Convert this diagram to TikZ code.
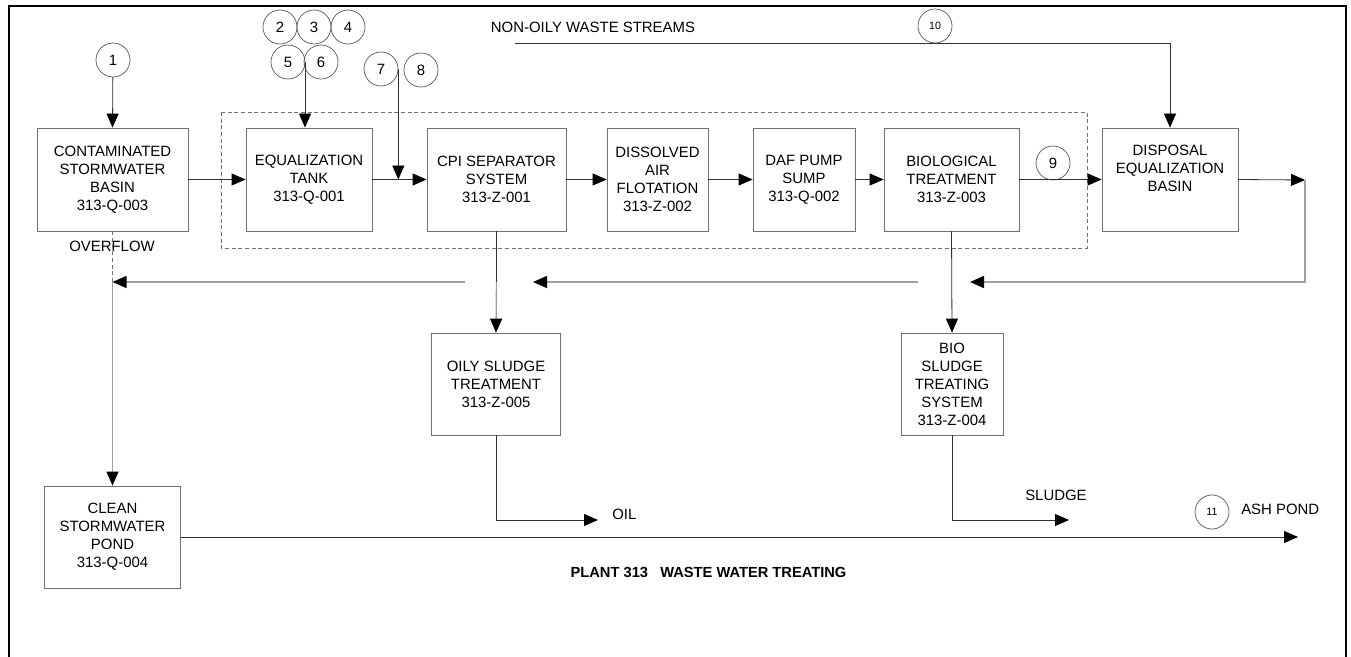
\documentclass[tikz,border=0pt]{standalone}
\usepackage{fontspec}
\setmainfont{Liberation Sans}
\usetikzlibrary{arrows.meta}
\definecolor{boxc}{HTML}{707070}
\definecolor{linec}{HTML}{303030}
\definecolor{retc}{HTML}{A0A0A0}
\definecolor{circc}{HTML}{505050}
\tikzset{
  box/.style={draw=boxc, line width=0.6pt, inner sep=0pt, align=center,
    minimum height=77.25pt, font=\fontsize{11.2}{13.5}\selectfont},
  num/.style={draw=circc, circle, line width=0.5pt, minimum size=25.5pt, inner sep=0pt,
    font=\fontsize{11.2}{13.5}\selectfont},
  smallnum/.style={num, font=\fontsize{8}{9}\selectfont},
  lbl/.style={inner sep=0pt, font=\fontsize{11.2}{13.5}\selectfont},
  flow/.style={draw=linec, line width=0.6pt},
  ret/.style={draw=retc, line width=1pt},
  tip/.style={-{Triangle[length=10.5pt,width=9pt,color=black]}},
  dashbox/.style={draw=boxc, line width=0.5pt, dash pattern=on 3pt off 2pt},
}
\begin{document}
\begin{tikzpicture}[x=0.75pt,y=-0.75pt]
\clip (0,0) rectangle (1351,656);
\fill[white] (0,0) rectangle (1351,656);
% frame
\draw[line width=1.6pt] (9,680) -- (9,6) -- (1346,6) -- (1346,680);
% dashed group
\draw[dashbox] (221,112) rectangle (1087,248);
% boxes
\node[box, minimum width=113.25pt] (cont) at (112.5,179.5) {CONTAMINATED\\STORMWATER\\BASIN\\313-Q-003};
\node[box, minimum width=94.5pt] (eq) at (309,179.5) {EQUALIZATION\\TANK\\313-Q-001};
\node[box, minimum width=104.25pt] (cpi) at (496.5,179.5) {CPI SEPARATOR\\SYSTEM\\313-Z-001};
\node[box, minimum width=75.75pt] (daf) at (657.5,179.5) {DISSOLVED\\AIR\\FLOTATION\\313-Z-002};
\node[box, minimum width=76.5pt] (pump) at (804,179.5) {DAF PUMP\\SUMP\\313-Q-002};
\node[box, minimum width=101.25pt] (bio) at (951.5,179.5) {BIOLOGICAL\\TREATMENT\\313-Z-003};
\node[box, minimum width=102pt] (disp) at (1170,179.5) {DISPOSAL\\EQUALIZATION\\BASIN\\\strut};
\node[box, minimum width=96.75pt, minimum height=76.5pt] (oily) at (496,384) {OILY SLUDGE\\TREATMENT\\313-Z-005};
\node[box, minimum width=76.5pt, minimum height=76.5pt] (biosl) at (952,384) {BIO\\SLUDGE\\TREATING\\SYSTEM\\313-Z-004};
\node[box, minimum width=102pt, minimum height=76.5pt] (clean) at (112.5,537) {CLEAN\\STORMWATER\\POND\\313-Q-004};
% circles
\node[num] (c1) at (113,60) {1};
\node[num] (c2) at (280,27) {2};
\node[num] (c3) at (314,27) {3};
\node[num] (c4) at (348,27) {4};
\node[num] (c5) at (288,62) {5};
\node[num] (c6) at (321,62) {6};
\node[num] (c7) at (381,69) {7};
\node[num] (c8) at (421,70) {8};
\node[num] (c9) at (1053,163) {9};
\node[smallnum] (c10) at (935,26) {10};
\node[smallnum] (c11) at (1212,512) {11};
% labels
\node[lbl] (nonoily) at (593,27) {NON-OILY WASTE STREAMS};
\node[lbl] (overflow) at (112,246) {OVERFLOW};
\node[lbl, anchor=west] (oil) at (612,514) {OIL};
\node[lbl, anchor=west] (sludge) at (1025,495) {SLUDGE};
\node[lbl, anchor=west] (ash) at (1241,509) {ASH POND};
\node[lbl, font=\bfseries\fontsize{11}{13}\selectfont] (title) at (708.5,572) {PLANT 313\ \ \ WASTE WATER TREATING};
% coordinates
\coordinate (j56) at (305,62);
\coordinate (nos) at (515,43);
\coordinate (dispout) at (1305,180);
\coordinate (r1) at (1305,282);
\coordinate (r2a) at (970,282);
\coordinate (r2b) at (918,282);
\coordinate (r3a) at (533,282);
\coordinate (r3b) at (465,282);
\coordinate (ov) at (112.5,282);
\coordinate (oilend) at (598,520);
\coordinate (sludgeend) at (1069,520);
\coordinate (ashend) at (1298,537);
% main flow
\draw[flow, tip] (c1) -- (cont.north);
\draw[flow, tip] (j56) -- (j56 |- eq.north);
\draw[flow, tip] (cont.east) -- (eq.west);
\draw[flow, tip] (eq.east) -- (cpi.west);
\draw[flow, tip] (c7.east) -- (c7.east |- eq.east);
\draw[flow, tip] (cpi.east) -- (daf.west);
\draw[flow, tip] (daf.east) -- (pump.west);
\draw[flow, tip] (pump.east) -- (bio.west);
\draw[flow, tip] (bio.east) -- (disp.west);
\draw[flow, tip] (nos) -| (disp.north);
\draw[flow, tip] (disp.east) -- (dispout);
% return line
\draw[ret, tip] (dispout) -- (r1) -- (r2a);
\draw[ret, tip] (r2b) -- (r3a);
\draw[ret, tip] (r3b) -- (ov);
% overflow
\draw[draw=boxc, dash pattern=on 3pt off 2pt, line width=0.6pt] (cont.south) -- (ov);
\draw[ret, tip, line width=0.9pt] (ov) -- (clean.north);
% sludge lines
\draw[flow] (cpi.south) -- (cpi.south |- ov);
\draw[ret, tip] (cpi.south |- ov) -- (oily.north);
\draw[flow, tip] (bio.south) -- (biosl.north);
\draw[flow, tip] (oily.south) |- (oilend);
\draw[flow, tip] (biosl.south) |- (sludgeend);
\draw[flow, tip] (clean.east |- ashend) -- (ashend);
\end{tikzpicture}
\end{document}
